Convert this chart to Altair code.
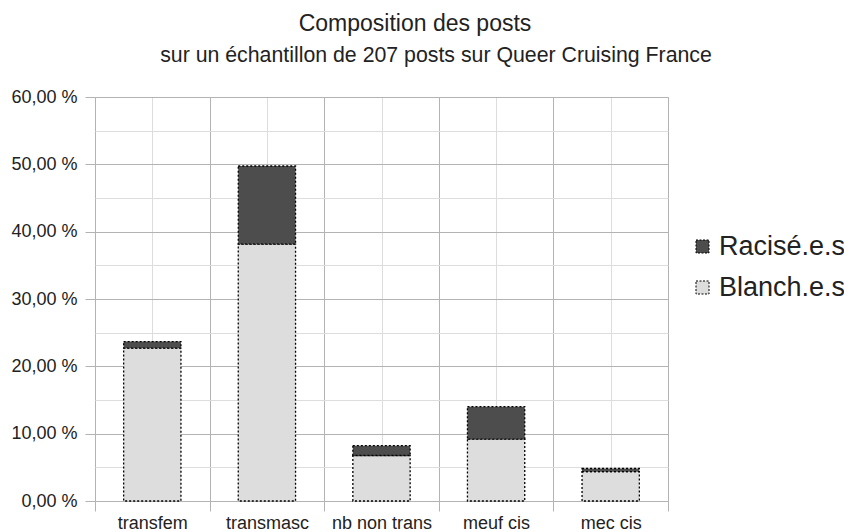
import altair as alt
import pandas as pd

categories = ["transfem", "transmasc", "nb non trans", "meuf cis", "mec cis"]
blanch = [22.71, 38.16, 6.76, 9.18, 4.35]
racise = [0.97, 11.59, 1.45, 4.83, 0.48]
series = ["Racisé.e.s", "Blanch.e.s"]
y_ticks = list(range(0, 61, 5))
x_ticks = [i / 2 for i in range(0, 11)]

rows = []
for i, c in enumerate(categories):
    b0, b1 = 0.0, blanch[i]
    r0, r1 = blanch[i], blanch[i] + racise[i]
    rows.append({"cat": c, "serie": "Blanch.e.s", "x0": i + 0.25, "x1": i + 0.75, "y0": b0, "y1": b1})
    rows.append({"cat": c, "serie": "Racisé.e.s", "x0": i + 0.25, "x1": i + 0.75, "y0": r0, "y1": r1})
df = pd.DataFrame(rows)

names_js = "[" + ",".join("'" + c + "'" for c in categories) + "]"
x_label_expr = f"(datum.value % 1) === 0.5 ? {names_js}[floor(datum.value)] : ''"
y_label_expr = "datum.value % 10 === 0 ? replace(format(datum.value, '.2f'), '.', ',') + ' %' : ''"

FONT = "Liberation Sans"

bars = alt.Chart(df).mark_bar(
    stroke="black", strokeDash=[2, 2], strokeWidth=1.3
).encode(
    x=alt.X("x0:Q", scale=alt.Scale(domain=[0, 5], nice=False, zero=False),
            axis=alt.Axis(values=x_ticks, title=None, domain=False,
                          labelExpr=x_label_expr, labelFont=FONT, labelFontSize=18,
                          labelColor="#222", labelPadding=3, tickSize=10,
                          tickColor="#b3b3b3",
                          tickOpacity={"condition": {"test": "(datum.value % 1) === 0", "value": 1}, "value": 0},
                          grid=True,
                          gridColor={"condition": {"test": "(datum.value % 1) === 0", "value": "#b3b3b3"}, "value": "#dddddd"},
                          labelFlush=False, labelOverlap=False)),
    x2="x1:Q",
    y=alt.Y("y0:Q", scale=alt.Scale(domain=[0, 60], nice=False),
            axis=alt.Axis(values=y_ticks, title=None, domain=False,
                          labelExpr=y_label_expr, labelFont=FONT, labelFontSize=18,
                          labelColor="#222", labelPadding=8, tickSize=10,
                          tickColor="#b3b3b3",
                          tickOpacity={"condition": {"test": "datum.value % 10 === 0", "value": 1}, "value": 0},
                          grid=True,
                          gridColor={"condition": {"test": "datum.value % 10 === 0", "value": "#b3b3b3"}, "value": "#dddddd"},
                          labelOverlap=False)),
    y2="y1:Q",
    fill=alt.Fill("serie:N", scale=alt.Scale(domain=series, range=["#4d4d4d", "#dddddd"]),
                  legend=alt.Legend(title=None, orient="none", legendX=594, legendY=136,
                                    labelFont=FONT, labelFontSize=27, labelColor="#222",
                                    symbolType="square", symbolSize=169,
                                    symbolStrokeColor="black", symbolStrokeWidth=1,
                                    symbolDash=[2, 1.5], rowPadding=13, labelOffset=3,
                                    labelLimit=300)),
)

title = alt.Chart(alt.Data(values=[{}])).mark_text(
    font=FONT, fontSize=23, color="#222", align="center", baseline="alphabetic"
).encode(text=alt.value("Composition des posts"), x=alt.value(320), y=alt.value(-66))

subtitle = alt.Chart(alt.Data(values=[{}])).mark_text(
    font=FONT, fontSize=21.3, color="#222", align="center", baseline="alphabetic"
).encode(text=alt.value("sur un échantillon de 207 posts sur Queer Cruising France"),
         x=alt.value(341), y=alt.value(-35))

chart = alt.layer(bars, title, subtitle).properties(
    width=573, height=404,
    autosize=alt.AutoSizeParams(type="none"),
    padding={"left": 87, "top": 89, "right": 176, "bottom": 31},
).configure_view(stroke=None).configure(background="white")

chart.save("out.html", embed_options={"renderer": "svg", "actions": False})
